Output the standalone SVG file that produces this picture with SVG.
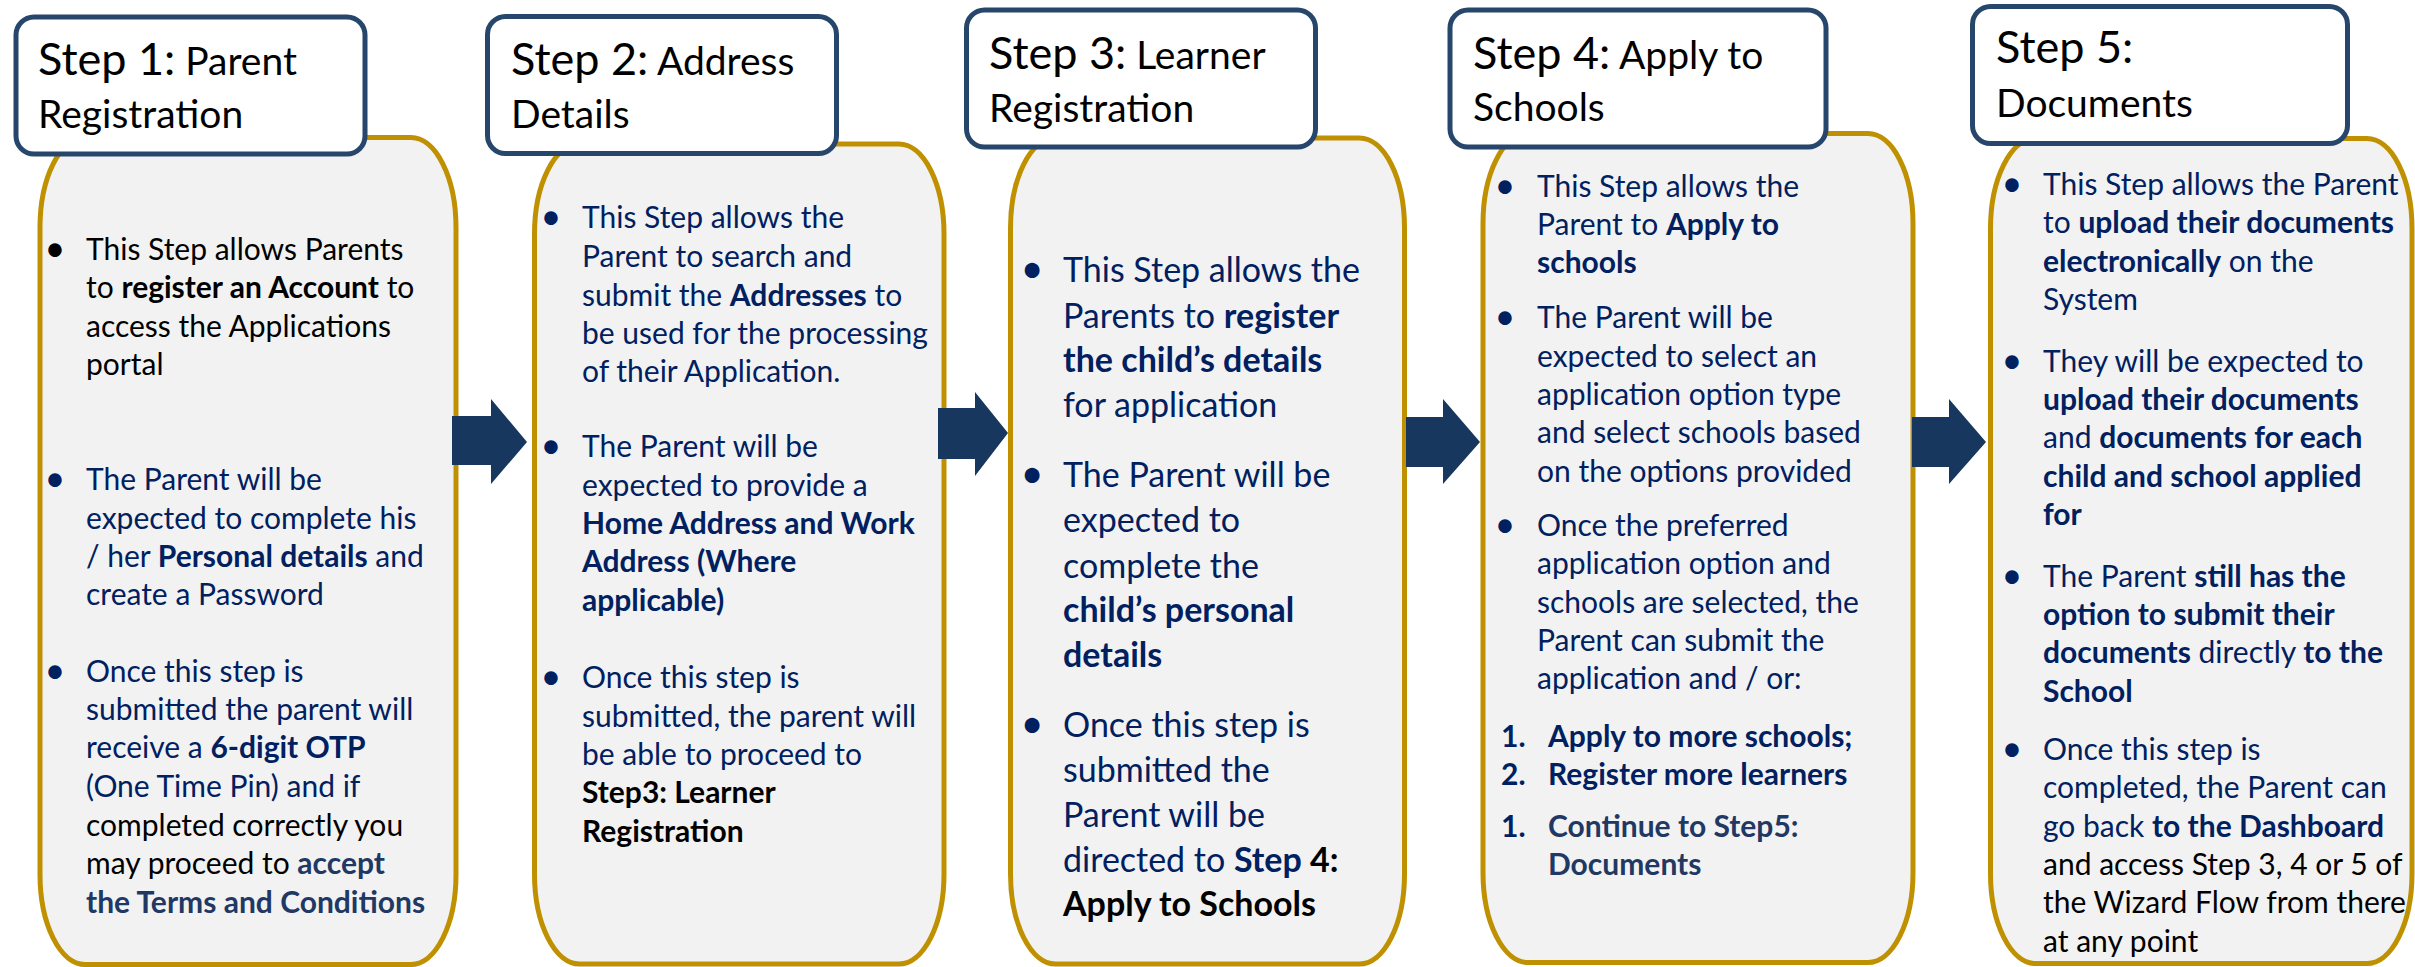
<svg xmlns="http://www.w3.org/2000/svg" width="2415" height="967" viewBox="0 0 2415 967">
  <style>
    .hdr { fill: #ffffff; stroke: #27466b; stroke-width: 5; }
    .card { fill: #f2f2f2; stroke: #bf9000; stroke-width: 5; }
    .arrow { fill: #17375e; }
    text { font-family: Lato, "Liberation Sans", sans-serif; }
    .h1 { font-size: 45px; fill: #000; }
    .h2 { font-size: 39px; fill: #000; }
    .t { font-size: 30px; }
    .tl { font-size: 34px; }
    .n { fill: #002060; }
    .k { fill: #000000; }
    .s { fill: #1f3864; }
    .b { font-weight: bold; }
    .bul { text-anchor: middle; font-size: 36px; }
    .tl.bul { font-size: 40px; }
  </style>

  <!-- Step 1: Parent Registration -->
  <g id="step1">
    <rect class="card" x="40" y="137.5" width="416" height="827" rx="45" ry="90"/>
    <rect class="hdr" x="16" y="17" width="349" height="137" rx="18"/>
    <text x="38" y="75"><tspan class="h1">Step 1:</tspan><tspan class="h2"> Parent</tspan></text>
    <text class="h2" x="38" y="128">Registration</text>

    <text class="t k bul" x="55" y="261">•</text>
    <text class="t k" x="86" y="260">This Step allows Parents</text>
    <text class="t k" x="86" y="298">to <tspan class="b">register an Account</tspan> to</text>
    <text class="t k" x="86" y="337">access the Applications</text>
    <text class="t k" x="86" y="375">portal</text>

    <text class="t n bul" x="55" y="491">•</text>
    <text class="t n" x="86" y="490">The Parent will be</text>
    <text class="t n" x="86" y="529">expected to complete his</text>
    <text class="t n" x="86" y="567">/ her <tspan class="b">Personal details</tspan> and</text>
    <text class="t n" x="86" y="605">create a Password</text>

    <text class="t n bul" x="55" y="683">•</text>
    <text class="t n" x="86" y="682">Once this step is</text>
    <text class="t n" x="86" y="720">submitted the parent  will</text>
    <text class="t n" x="86" y="758">receive a <tspan class="b">6-digit OTP</tspan></text>
    <text class="t n" x="86" y="797">(One Time Pin) and if</text>
    <text class="t k" x="86" y="836">completed correctly you</text>
    <text class="t k" x="86" y="874">may proceed to <tspan class="b s">accept</tspan></text>
    <text class="t s b" x="86" y="913">the Terms and Conditions</text>
  </g>

  <!-- Step 2: Address Details -->
  <g id="step2">
    <rect class="card" x="534.5" y="144" width="409.5" height="820" rx="45" ry="90"/>
    <rect class="hdr" x="487.5" y="16.5" width="349" height="137" rx="18"/>
    <text x="511" y="75"><tspan class="h1">Step 2:</tspan><tspan class="h2"> Address</tspan></text>
    <text class="h2" x="511" y="128">Details</text>

    <text class="t n bul" x="551" y="229">•</text>
    <text class="t n" x="582" y="228">This Step allows the</text>
    <text class="t n" x="582" y="267">Parent to search and</text>
    <text class="t n" x="582" y="306">submit the <tspan class="b">Addresses</tspan> to</text>
    <text class="t n" x="582" y="344">be used for the processing</text>
    <text class="t n" x="582" y="382">of their Application.</text>

    <text class="t n bul" x="551" y="458">•</text>
    <text class="t n" x="582" y="457">The Parent will be</text>
    <text class="t n" x="582" y="496">expected to provide a</text>
    <text class="t n b" x="582" y="534">Home Address and Work</text>
    <text class="t n b" x="582" y="572">Address (Where</text>
    <text class="t n b" x="582" y="611">applicable)</text>

    <text class="t n bul" x="551" y="689">•</text>
    <text class="t n" x="582" y="688">Once this step is</text>
    <text class="t n" x="582" y="727">submitted,  the parent will</text>
    <text class="t n" x="582" y="765">be able to proceed to</text>
    <text class="t k b" x="582" y="803">Step3: Learner</text>
    <text class="t k b" x="582" y="842">Registration</text>
  </g>

  <!-- Step 3: Learner Registration -->
  <g id="step3">
    <rect class="card" x="1010.5" y="138" width="394" height="826" rx="45" ry="90"/>
    <rect class="hdr" x="966.5" y="10" width="349" height="137" rx="18"/>
    <text x="989" y="69"><tspan class="h1">Step 3:</tspan><tspan class="h2"> Learner</tspan></text>
    <text class="h2" x="989" y="122">Registration</text>

    <text class="tl n bul" x="1032" y="283">•</text>
    <text class="tl n" x="1063" y="282">This Step allows the</text>
    <text class="tl n" x="1063" y="328">Parents to <tspan class="b">register</tspan></text>
    <text class="tl n b" x="1063" y="372">the child’s details</text>
    <text class="tl n" x="1063" y="417">for application</text>

    <text class="tl n bul" x="1032" y="488">•</text>
    <text class="tl n" x="1063" y="487">The Parent will be</text>
    <text class="tl n" x="1063" y="532">expected to</text>
    <text class="tl n" x="1063" y="578">complete the</text>
    <text class="tl n b" x="1063" y="622">child’s personal</text>
    <text class="tl n b" x="1063" y="667">details</text>

    <text class="tl n bul" x="1032" y="738">•</text>
    <text class="tl n" x="1063" y="737">Once this step is</text>
    <text class="tl n" x="1063" y="782">submitted the</text>
    <text class="tl n" x="1063" y="827">Parent will be</text>
    <text class="tl n" x="1063" y="872">directed to <tspan class="b">Step</tspan><tspan class="b k"> 4:</tspan></text>
    <text class="tl k b" x="1063" y="916">Apply to Schools</text>
  </g>

  <!-- Step 4: Apply to Schools -->
  <g id="step4">
    <rect class="card" x="1483" y="133.5" width="430" height="829" rx="45" ry="90"/>
    <rect class="hdr" x="1450" y="10" width="376" height="137" rx="18"/>
    <text x="1473" y="69"><tspan class="h1">Step 4:</tspan><tspan class="h2"> Apply to</tspan></text>
    <text class="h2" x="1473" y="121">Schools</text>

    <text class="t n bul" x="1505" y="198">•</text>
    <text class="t n" x="1537" y="197">This Step allows the</text>
    <text class="t n" x="1537" y="235">Parent to <tspan class="b">Apply to</tspan></text>
    <text class="t n b" x="1537" y="273">schools</text>

    <text class="t n bul" x="1505" y="329">•</text>
    <text class="t n" x="1537" y="328">The Parent will be</text>
    <text class="t n" x="1537" y="367">expected to select an</text>
    <text class="t n" x="1537" y="405">application option type</text>
    <text class="t n" x="1537" y="443">and select schools based</text>
    <text class="t n" x="1537" y="482">on the options provided</text>

    <text class="t n bul" x="1505" y="537">•</text>
    <text class="t n" x="1537" y="536">Once the preferred</text>
    <text class="t n" x="1537" y="574">application option and</text>
    <text class="t n" x="1537" y="613">schools are selected,  the</text>
    <text class="t n" x="1537" y="651">Parent can submit the</text>
    <text class="t n" x="1537" y="689">application and / or:</text>

    <text class="t n b" x="1501" y="747">1.</text>
    <text class="t n b" x="1548" y="747">Apply to more schools;</text>
    <text class="t n b" x="1501" y="785">2.</text>
    <text class="t n b" x="1548" y="785">Register more learners</text>
    <text class="t n b" x="1501" y="837">1.</text>
    <text class="t s b" x="1548" y="837">Continue to Step5:</text>
    <text class="t s b" x="1548" y="875">Documents</text>
  </g>

  <!-- Step 5: Documents -->
  <g id="step5">
    <rect class="card" x="1990.5" y="138.5" width="421.5" height="825" rx="45" ry="90"/>
    <rect class="hdr" x="1972.5" y="6.5" width="375" height="137" rx="18"/>
    <text class="h1" x="1996" y="63">Step 5:</text>
    <text class="h2" x="1996" y="117">Documents</text>

    <text class="t n bul" x="2012" y="196">•</text>
    <text class="t n" x="2043" y="195">This Step allows the Parent</text>
    <text class="t n" x="2043" y="233">to <tspan class="b">upload their documents</tspan></text>
    <text class="t n" x="2043" y="272"><tspan class="b">electronically</tspan> on the</text>
    <text class="t n" x="2043" y="310">System</text>

    <text class="t n bul" x="2012" y="373">•</text>
    <text class="t n" x="2043" y="372">They will be expected to</text>
    <text class="t n b" x="2043" y="410">upload their documents</text>
    <text class="t n" x="2043" y="448">and <tspan class="b">documents for each</tspan></text>
    <text class="t n b" x="2043" y="487">child and school applied</text>
    <text class="t n b" x="2043" y="525">for</text>

    <text class="t n bul" x="2012" y="588">•</text>
    <text class="t n" x="2043" y="587">The Parent <tspan class="b">still has the</tspan></text>
    <text class="t n b" x="2043" y="625">option to submit their</text>
    <text class="t n" x="2043" y="663"><tspan class="b">documents</tspan> directly <tspan class="b">to the</tspan></text>
    <text class="t n b" x="2043" y="702">School</text>

    <text class="t n bul" x="2012" y="761">•</text>
    <text class="t n" x="2043" y="760">Once this step is</text>
    <text class="t n" x="2043" y="798">completed, the Parent can</text>
    <text class="t n" x="2043" y="837">go back <tspan class="b">to the Dashboard</tspan></text>
    <text class="t k" x="2043" y="875">and access Step 3, 4 or 5 of</text>
    <text class="t k" x="2043" y="913">the Wizard Flow from there</text>
    <text class="t k" x="2043" y="952">at any point</text>
  </g>

  <!-- block arrows between steps -->
  <g id="connectors">
    <polygon class="arrow" points="452,416 491,416 491,399 527,442 491,484 491,465 452,465"/>
    <polygon class="arrow" points="938,408 975,408 975,392 1008,433 975,476 975,459 938,459"/>
    <polygon class="arrow" points="1406,417 1443,417 1443,399 1480,442 1443,484 1443,467 1406,467"/>
    <polygon class="arrow" points="1912,417 1949,417 1949,399 1986,442 1949,484 1949,467 1912,467"/>
  </g>
</svg>
